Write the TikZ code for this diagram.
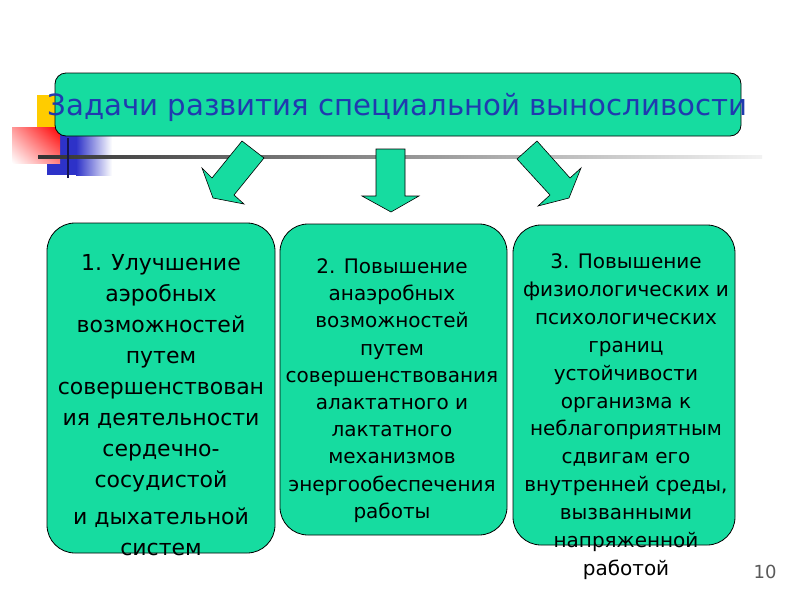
\documentclass[tikz,border=0pt]{standalone}
\usepackage{fontspec}
\usetikzlibrary{shadings}
\setmainfont{DejaVu Sans}
\definecolor{teal1}{RGB}{22,220,160}
\definecolor{titleblue}{RGB}{32,58,175}
\definecolor{yell}{RGB}{255,204,0}
\definecolor{blu}{RGB}{45,50,200}
\definecolor{navy}{RGB}{20,20,80}
\definecolor{pgnum}{RGB}{90,90,90}
\begin{document}
\begin{tikzpicture}[x=1pt,y=-1pt,
  cardbox/.style={draw=black, line width=0.8pt, fill=teal1, rounded corners=28pt, inner sep=0pt},
  titlebox/.style={draw=black, line width=0.8pt, fill=teal1, rounded corners=11pt, inner sep=0pt},
  arrowshape/.style={draw=black, line width=0.6pt, fill=teal1},
  cardtext/.style={align=center, anchor=north, inner sep=0pt, text=black}]
\useasboundingbox (0,0) rectangle (800,600);
\fill[white] (0,0) rectangle (800,600);
% decorative squares and lines
\fill[yell] (37,95) rectangle (70,127);
\fill[blu] (47,134) rectangle (76,175);
\shade[left color=blu, right color=white] (76,134) rectangle (112,175);
\shade[upper left=red!40!white, upper right=red, lower left=white, lower right=red!50!white] (12,127) rectangle (60,163);
\shade[left color=black!80, right color=black!5] (38,155.5) rectangle (762,158.5);
\draw[navy, line width=1.5pt] (68,138) -- (68,178);
% title
\node[titlebox, minimum width=686pt, minimum height=63pt] (title) at (398,104.5) {};
\node[anchor=base, inner sep=0pt, text=titleblue, font=\fontsize{29.2}{33}\selectfont] (titletext) at (397.5,115) {Задачи развития специальной выносливости};
% arrows
\draw[arrowshape] (242,141) -- (264,158) -- (234,195) -- (244,204) -- (213,198) -- (202,168) -- (212,178) -- cycle;
\draw[arrowshape] (376,149) -- (405,149) -- (405,196) -- (419,196) -- (391,212) -- (362,196) -- (376,196) -- cycle;
\draw[arrowshape] (537,141) -- (570,178) -- (581,168) -- (569,198) -- (538,206) -- (550,195) -- (517,159) -- cycle;
% boxes
\node[cardbox, minimum width=228pt, minimum height=330pt] (b1) at (161,388) {};
\node[cardbox, minimum width=227pt, minimum height=311pt] (b2) at (393.5,379.5) {};
\node[cardbox, minimum width=222pt, minimum height=320pt] (b3) at (624,385) {};
% texts
\node[cardtext, font=\fontsize{22}{31.1}\selectfont] (t1) at (161,254) {1. Улучшение\\аэробных\\возможностей\\путем\\совершенствован\\ия деятельности\\сердечно-\\сосудистой\\[5pt]и дыхательной\\систем};
\node[cardtext, font=\fontsize{20}{27.2}\selectfont] (t2) at (392,258.5) {2. Повышение\\анаэробных\\возможностей\\путем\\совершенствования\\алактатного и\\лактатного\\механизмов\\энергообеспечения\\работы};
\node[cardtext, font=\fontsize{20}{27.9}\selectfont] (t3) at (626,253.5) {3. Повышение\\физиологических и\\психологических\\границ\\устойчивости\\организма к\\неблагоприятным\\сдвигам его\\внутренней среды,\\вызванными\\напряженной\\работой};
\node[anchor=base, inner sep=0pt, text=pgnum, font=\fontsize{18}{20}\selectfont] (pg) at (765,578) {10};
\end{tikzpicture}
\end{document}
